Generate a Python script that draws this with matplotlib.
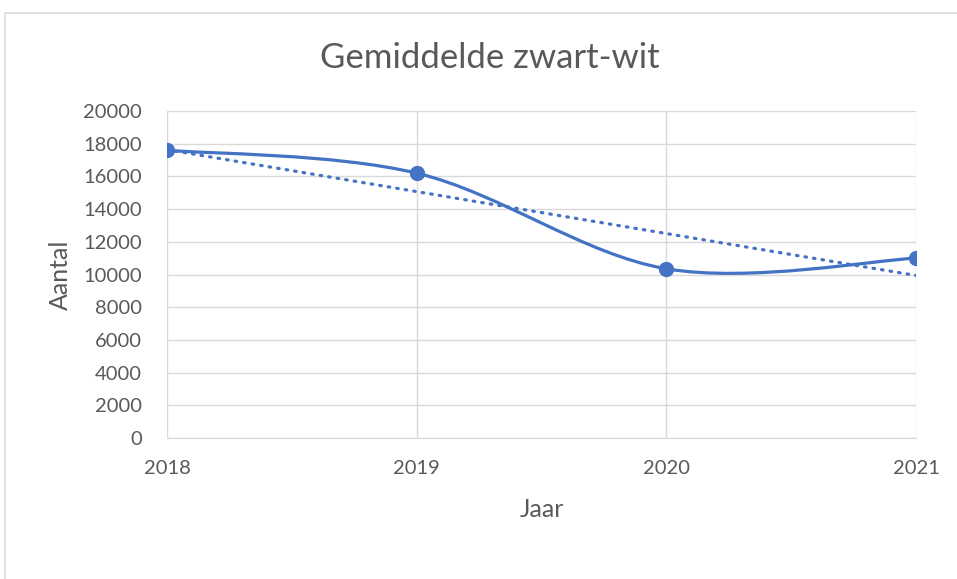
import numpy as np
import matplotlib
matplotlib.use("Agg")
from matplotlib import pyplot as plt
from matplotlib.path import Path
from matplotlib.patches import PathPatch, Rectangle

# data
years = [2018, 2019, 2020, 2021]
aantal = [17600, 16200, 10350, 11000]
yticks = list(range(0, 20001, 2000))

blue = '#4472C4'
grey = '#595959'
plt.rcParams['font.family'] = ['Lato', 'DejaVu Sans']

fig = plt.figure(figsize=(9.57, 5.79), dpi=100)
ax = fig.add_axes([167/957, 1 - 438/579, (916 - 167)/957, (438 - 111)/579])

# excel-like smoothed line: bezier segments with catmull-rom control points
x = np.array(years, dtype=float)
y = np.array(aantal, dtype=float)
verts = [(x[0], y[0])]
codes = [Path.MOVETO]
n = len(x)
for i in range(n - 1):
    p0 = (x[max(i - 1, 0)], y[max(i - 1, 0)])
    p1 = (x[i], y[i])
    p2 = (x[i + 1], y[i + 1])
    p3 = (x[min(i + 2, n - 1)], y[min(i + 2, n - 1)])
    c1 = (p1[0] + (p2[0] - p0[0]) / 6, p1[1] + (p2[1] - p0[1]) / 6)
    c2 = (p2[0] - (p3[0] - p1[0]) / 6, p2[1] - (p3[1] - p1[1]) / 6)
    verts += [c1, c2, p2]
    codes += [Path.CURVE4] * 3
ax.add_patch(PathPatch(Path(verts, codes), facecolor='none', edgecolor=blue,
                       lw=2.3, capstyle='round', joinstyle='round', zorder=3))
ax.plot(years, aantal, 'o', color=blue, ms=10, zorder=4)

# linear trendline
k, b = np.polyfit(x, y, 1)
ax.plot(x, k * x + b, color=blue, lw=2.3, linestyle=(0, (0.5, 2.2)),
        dash_capstyle='round', zorder=2)

ax.set_xlim(2018, 2021)
ax.set_ylim(0, 20000)
ax.set_xticks(years)
ax.set_yticks(yticks)
ax.grid(True, color='#d9d9d9', lw=1)
ax.set_axisbelow(True)
for s in ['top', 'right', 'left']:
    ax.spines[s].set_visible(False)
ax.spines['bottom'].set_color('#d9d9d9')
ax.tick_params(length=0, labelsize=14.5, labelcolor=grey)
ax.tick_params(axis='x', pad=16)
ax.tick_params(axis='y', pad=18)

ax.set_xlabel('Jaar', fontsize=18, color=grey, labelpad=15)
ax.set_ylabel('Aantal', fontsize=18, color=grey, labelpad=8)
fig.text(490/957, 1 - 58/579, 'Gemiddelde zwart-wit', fontsize=25, color=grey,
         ha='center', va='center')

# chart area border (only left and top visible in the crop)
fig.patches.append(Rectangle((5/957, -0.1), 1.2, 1 - 13/579 + 0.1,
                             transform=fig.transFigure, facecolor='none',
                             edgecolor='#d9d9d9', lw=1.2))

fig.savefig('out.png', dpi=100)
